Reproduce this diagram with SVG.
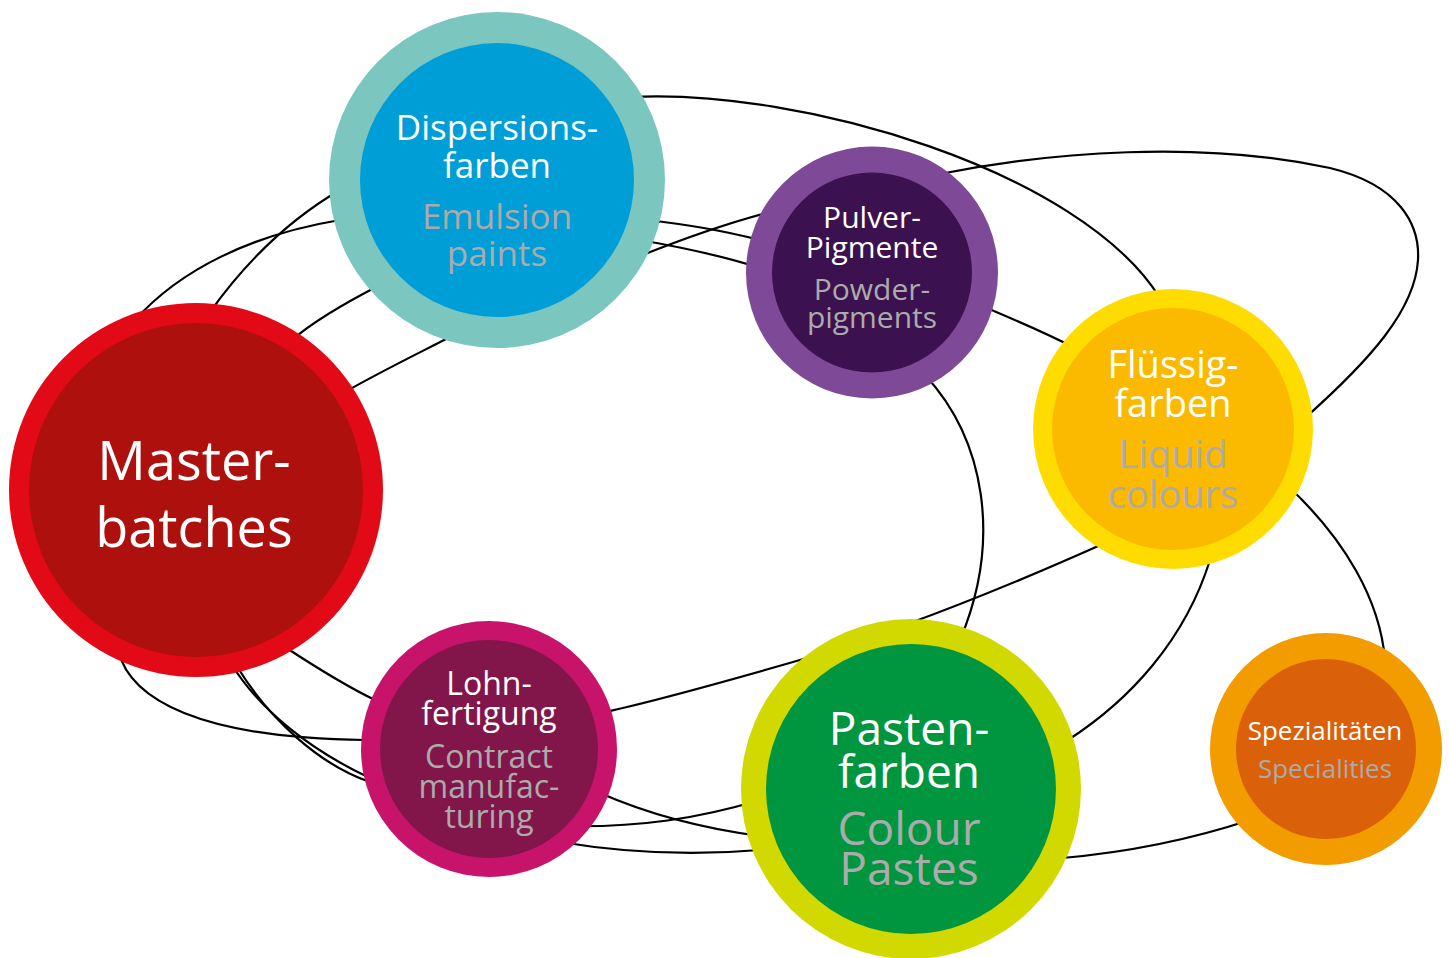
<svg xmlns="http://www.w3.org/2000/svg" width="1449" height="958" viewBox="0 0 1449 958">
<style>
.ln{fill:none;stroke:#000;stroke-width:2.2}
.t{font-family:"Open Sans","Noto Sans",sans-serif;text-anchor:middle;fill:#fff}
.g{fill:#ABABAB}
</style>
<rect width="1449" height="958" fill="#fff"/>
<g id="connectors">
<path class="ln" d="M135,320 C180,270 250,235 340,220 C440,205 560,208 660,222"/>
<path class="ln" d="M640,219 C690,225 720,230 760,240"/>
<path class="ln" d="M210,312 C240,270 280,225 340,190"/>
<path class="ln" d="M292,340 C315,320 345,303 380,285"/>
<path class="ln" d="M345,392 C380,372 415,355 450,337"/>
<path class="ln" d="M630,97 C800,88 1080,170 1160,298"/>
<path class="ln" d="M640,240 C680,247 720,255 760,268"/>
<path class="ln" d="M640,256 C680,240 720,225 770,212"/>
<path class="ln" d="M940,174 C1050,152 1200,140 1330,168 C1400,185 1420,225 1418,260 C1415,310 1370,360 1305,418"/>
<path class="ln" d="M980,305 C1010,318 1040,330 1075,348"/>
<path class="ln" d="M925,375 C985,440 1002,540 960,640"/>
<path class="ln" d="M1105,543 C1000,590 900,630 800,660 C720,683 660,700 605,712"/>
<path class="ln" d="M1210,560 C1185,640 1130,700 1068,740"/>
<path class="ln" d="M1290,488 C1345,540 1380,600 1385,660"/>
<path class="ln" d="M1250,820 C1180,843 1120,853 1062,858"/>
<path class="ln" d="M118,650 C130,700 200,738 365,740"/>
<path class="ln" d="M232,665 C260,710 310,750 370,778"/>
<path class="ln" d="M238,668 C270,720 320,765 370,782"/>
<path class="ln" d="M285,647 C320,670 350,688 375,700"/>
<path class="ln" d="M560,826 C640,828 700,818 760,800"/>
<path class="ln" d="M560,842 C620,852 690,856 760,850"/>
<path class="ln" d="M600,793 C650,815 700,828 760,836"/>
</g>
<g id="masterbatches">
<circle cx="196" cy="490" r="187" fill="#E20A16"/>
<circle cx="196" cy="490" r="167" fill="#AD100D"/>
<text class="t" x="194" y="480" font-size="54">Master-</text>
<text class="t" x="194" y="547" font-size="54">batches</text>
</g>
<g id="dispersionsfarben">
<circle cx="497" cy="180" r="168" fill="#7BC6BF"/>
<circle cx="497" cy="180" r="137" fill="#009ED6"/>
<text class="t" x="497" y="140" font-size="35">Dispersions-</text>
<text class="t" x="497" y="178" font-size="35">farben</text>
<text class="t g" x="497" y="229" font-size="35">Emulsion</text>
<text class="t g" x="497" y="266" font-size="35">paints</text>
</g>
<g id="pulverpigmente">
<circle cx="872" cy="272.5" r="126" fill="#7E4A97"/>
<circle cx="872" cy="272.5" r="100" fill="#3C1150"/>
<text class="t" x="872" y="228" font-size="30">Pulver-</text>
<text class="t" x="872" y="258" font-size="30">Pigmente</text>
<text class="t g" x="872" y="300" font-size="30">Powder-</text>
<text class="t g" x="872" y="328" font-size="30">pigments</text>
</g>
<g id="fluessigfarben">
<circle cx="1173" cy="429" r="140" fill="#FFDC00"/>
<circle cx="1173" cy="429" r="121" fill="#FBBA00"/>
<text class="t" x="1173" y="378" font-size="38">Flüssig-</text>
<text class="t" x="1173" y="417" font-size="38">farben</text>
<text class="t g" x="1173" y="468" font-size="38">Liquid</text>
<text class="t g" x="1173" y="508" font-size="38">colours</text>
</g>
<g id="lohnfertigung">
<circle cx="489" cy="749" r="128" fill="#C8136A"/>
<circle cx="489" cy="749" r="109" fill="#82164A"/>
<text class="t" x="489" y="695" font-size="32">Lohn-</text>
<text class="t" x="489" y="725" font-size="32">fertigung</text>
<text class="t g" x="489" y="768" font-size="32">Contract</text>
<text class="t g" x="489" y="798" font-size="32">manufac-</text>
<text class="t g" x="489" y="828" font-size="32">turing</text>
</g>
<g id="pastenfarben">
<circle cx="911" cy="789" r="170" fill="#D2D900"/>
<circle cx="911" cy="789" r="145" fill="#00963F"/>
<text class="t" x="909" y="745" font-size="46">Pasten-</text>
<text class="t" x="909" y="788" font-size="46">farben</text>
<text class="t g" x="909" y="845" font-size="46">Colour</text>
<text class="t g" x="909" y="885" font-size="46">Pastes</text>
</g>
<g id="spezialitaeten">
<circle cx="1326" cy="749" r="116" fill="#F39C00"/>
<circle cx="1326" cy="749" r="90" fill="#DB600A"/>
<text class="t" x="1325" y="740" font-size="26">Spezialitäten</text>
<text class="t g" x="1325" y="778" font-size="26">Specialities</text>
</g>
</svg>
